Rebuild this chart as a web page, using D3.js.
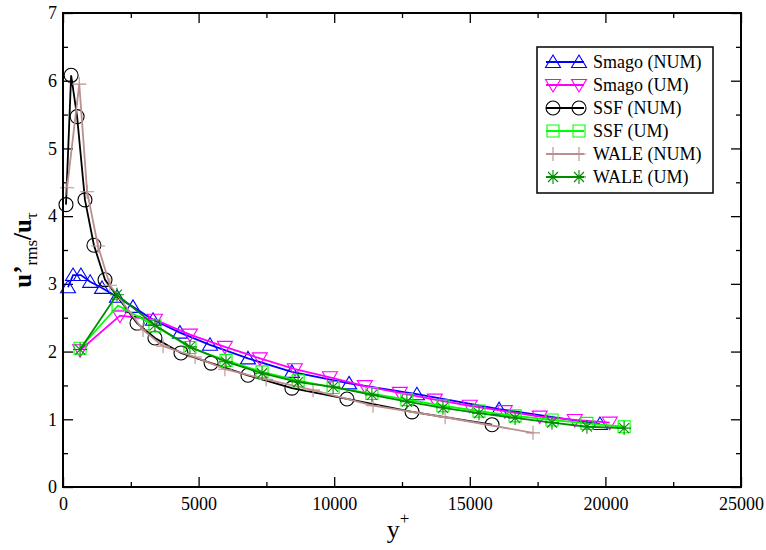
<!DOCTYPE html>
<html>
<head>
<meta charset="utf-8">
<script src="https://cdn.jsdelivr.net/npm/d3@7"></script>
<style>
body { margin: 0; background: #fff; }
svg text { font-family: "Liberation Serif", "Times New Roman", serif; }
</style>
</head>
<body>
<svg id="chart" width="766" height="550"></svg>
<script>
// values
const smagoNumX = [185, 370, 660, 1000, 1440, 1990, 2580, 3320, 4310, 5420, 6820, 8440, 10550, 13050, 16080, 19800];
const smagoNumY = [2.95, 3.13, 3.13, 3.03, 2.94, 2.81, 2.66, 2.47, 2.28, 2.10, 1.90, 1.70, 1.53, 1.37, 1.15, 0.93];

const smagoUmX = [630, 2100, 3390, 4680, 5970, 7260, 8550, 9840, 11130, 12420, 13710, 15000, 16290, 17580, 18870, 20160];
const smagoUmY = [2.02, 2.53, 2.47, 2.25, 2.07, 1.90, 1.74, 1.62, 1.49, 1.39, 1.29, 1.20, 1.12, 1.04, 0.99, 0.95];

const ssfNumX = [110, 300, 520, 810, 1140, 1550, 2730, 3390, 4350, 5460, 6820, 8440, 10470, 12870, 15820];
const ssfNumY = [4.17, 6.08, 5.47, 4.24, 3.57, 3.06, 2.42, 2.20, 1.98, 1.83, 1.65, 1.46, 1.30, 1.11, 0.92];

const ssfUmX = [630, 2030, 3390, 4680, 6010, 7340, 8670, 9960, 11390, 12680, 14010, 15340, 16670, 18030, 19320, 20690];
const ssfUmY = [2.05, 2.68, 2.38, 2.06, 1.87, 1.70, 1.57, 1.47, 1.38, 1.29, 1.20, 1.12, 1.05, 0.99, 0.94, 0.89];

const waleNumX = [150, 600, 890, 1290, 1730, 2950, 3690, 4870, 5970, 7490, 9220, 11430, 14090, 17330];
const waleNumY = [4.42, 5.95, 4.36, 3.56, 2.98, 2.32, 2.08, 1.92, 1.74, 1.59, 1.43, 1.20, 1.03, 0.80];

const waleUmX = [630, 1990, 3390, 4680, 6010, 7340, 8670, 9960, 11390, 12680, 14010, 15340, 16670, 18030, 19320, 20690];
const waleUmY = [2.03, 2.84, 2.39, 2.07, 1.85, 1.68, 1.55, 1.48, 1.36, 1.26, 1.17, 1.09, 1.02, 0.95, 0.89, 0.87];

const xTicks = [0, 5000, 10000, 15000, 20000, 25000];
const yTicks = [0, 1, 2, 3, 4, 5, 6, 7];

const series = [
    { name: "Smago (NUM)", xs: smagoNumX, ys: smagoNumY, color: "#0000ff", sym: "triUp" },
    { name: "Smago (UM)", xs: smagoUmX, ys: smagoUmY, color: "#ff00ff", sym: "triDown" },
    { name: "SSF (NUM)", xs: ssfNumX, ys: ssfNumY, color: "#000000", sym: "circle" },
    { name: "SSF (UM)", xs: ssfUmX, ys: ssfUmY, color: "#00ff00", sym: "square" },
    { name: "WALE (NUM)", xs: waleNumX, ys: waleNumY, color: "#bc8f8f", sym: "plus" },
    { name: "WALE (UM)", xs: waleUmX, ys: waleUmY, color: "#008b00", sym: "star" }
];

const FONT = '"Liberation Serif", "Times New Roman", serif';
const svg = d3.select("#chart");
const pLeft = 63, pRight = 741, pTop = 13, pBottom = 487;

const x = d3.scaleLinear().domain([0, 25000]).range([pLeft, pRight]);
const y = d3.scaleLinear().domain([0, 7]).range([pBottom, pTop]);

// marker shapes
function symPath(s) {
    switch (s) {
        case "triUp": return "M0,-7L7.5,5.5L-7.5,5.5Z";
        case "triDown": return "M0,7L7.5,-5.5L-7.5,-5.5Z";
        case "circle": return "M7,0A7,7 0 1,1 -7,0A7,7 0 1,1 7,0Z";
        case "square": return "M-6,-6H6V6H-6Z";
        case "plus": return "M-7,0H7M0,-7V7";
        case "star": return "M-7,0H7M0,-7V7M-5,-5L5,5M-5,5L5,-5";
    }
}

// axes: major + minor, inward, on all four sides
function addAxis(axisFn, scale, tr, ticks, size, labels) {
    const a = axisFn(scale).tickValues(ticks).tickSize(size).tickPadding(6)
        .tickFormat(labels ? d3.format("d") : "");
    const g = svg.append("g").attr("transform", tr).call(a)
        .attr("font-family", FONT).attr("font-size", 18);
    g.select(".domain").remove();
    g.selectAll("line").attr("stroke", "#000").attr("stroke-width", 1.3);
    g.selectAll("text").attr("fill", "#000");
    return g;
}
const xMinor = d3.range(2500, 25000, 5000);
const yMinor = d3.range(0.5, 7, 1);

const gx = addAxis(d3.axisBottom, x, `translate(0,${pBottom})`, xTicks, -10, true);
gx.selectAll("text").attr("y", 10).attr("dy", "0.71em");
addAxis(d3.axisBottom, x, `translate(0,${pBottom})`, xMinor, -5, false);
addAxis(d3.axisTop, x, `translate(0,${pTop})`, xTicks, -10, false);
addAxis(d3.axisTop, x, `translate(0,${pTop})`, xMinor, -5, false);
const gy = addAxis(d3.axisLeft, y, `translate(${pLeft},0)`, yTicks, -10, true);
gy.selectAll("text").attr("x", -6);
addAxis(d3.axisLeft, y, `translate(${pLeft},0)`, yMinor, -5, false);
addAxis(d3.axisRight, y, `translate(${pRight},0)`, yTicks, -10, false);
addAxis(d3.axisRight, y, `translate(${pRight},0)`, yMinor, -5, false);

// data
const line = d3.line().x(d => x(d[0])).y(d => y(d[1]));
series.forEach(s => {
    const pts = s.xs.map((v, i) => [v, s.ys[i]]);
    const g = svg.append("g");
    g.append("path").attr("d", line(pts))
        .attr("fill", "none").attr("stroke", s.color).attr("stroke-width", 1.8);
    g.selectAll("path.m").data(pts).enter().append("path")
        .attr("class", "m")
        .attr("transform", d => `translate(${x(d[0])},${y(d[1])})`)
        .attr("d", symPath(s.sym))
        .attr("fill", "none").attr("stroke", s.color).attr("stroke-width", 1.1);
});

// frame
svg.append("rect").attr("x", pLeft).attr("y", pTop)
    .attr("width", pRight - pLeft).attr("height", pBottom - pTop)
    .attr("fill", "none").attr("stroke", "#000").attr("stroke-width", 2);

// axis titles
const xl = svg.append("text").attr("x", 398).attr("y", 538)
    .attr("text-anchor", "middle").attr("font-family", FONT).attr("font-size", 26);
xl.append("tspan").text("y");
xl.append("tspan").attr("dy", -14).attr("font-size", 17).text("+");

const yl = svg.append("text")
    .attr("transform", "translate(31,250) rotate(-90)")
    .attr("text-anchor", "middle").attr("font-family", FONT).attr("font-size", 25);
yl.append("tspan").attr("font-weight", "bold").text("u’");
yl.append("tspan").attr("dy", 6).attr("font-size", 17).text("rms");
yl.append("tspan").attr("dy", -6).attr("font-weight", "bold").text("/u");
yl.append("tspan").attr("dy", 6).attr("font-size", 17).text("τ");

// legend
const lg = svg.append("g");
lg.append("rect").attr("x", 537).attr("y", 47).attr("width", 176).attr("height", 146)
    .attr("fill", "#fff").attr("stroke", "#000").attr("stroke-width", 1.5);
series.forEach((s, i) => {
    const ly = 62 + i * 23;
    lg.append("line").attr("x1", 546).attr("x2", 584).attr("y1", ly).attr("y2", ly)
        .attr("stroke", s.color).attr("stroke-width", 1.8);
    [553, 579].forEach(mx => {
        lg.append("path").attr("transform", `translate(${mx},${ly})`)
            .attr("d", symPath(s.sym)).attr("fill", "none")
            .attr("stroke", s.color).attr("stroke-width", 1.1);
    });
    lg.append("text").attr("x", 593).attr("y", ly).attr("dy", "0.35em")
        .attr("font-family", FONT).attr("font-size", 18).text(s.name);
});
</script>
</body>
</html>
